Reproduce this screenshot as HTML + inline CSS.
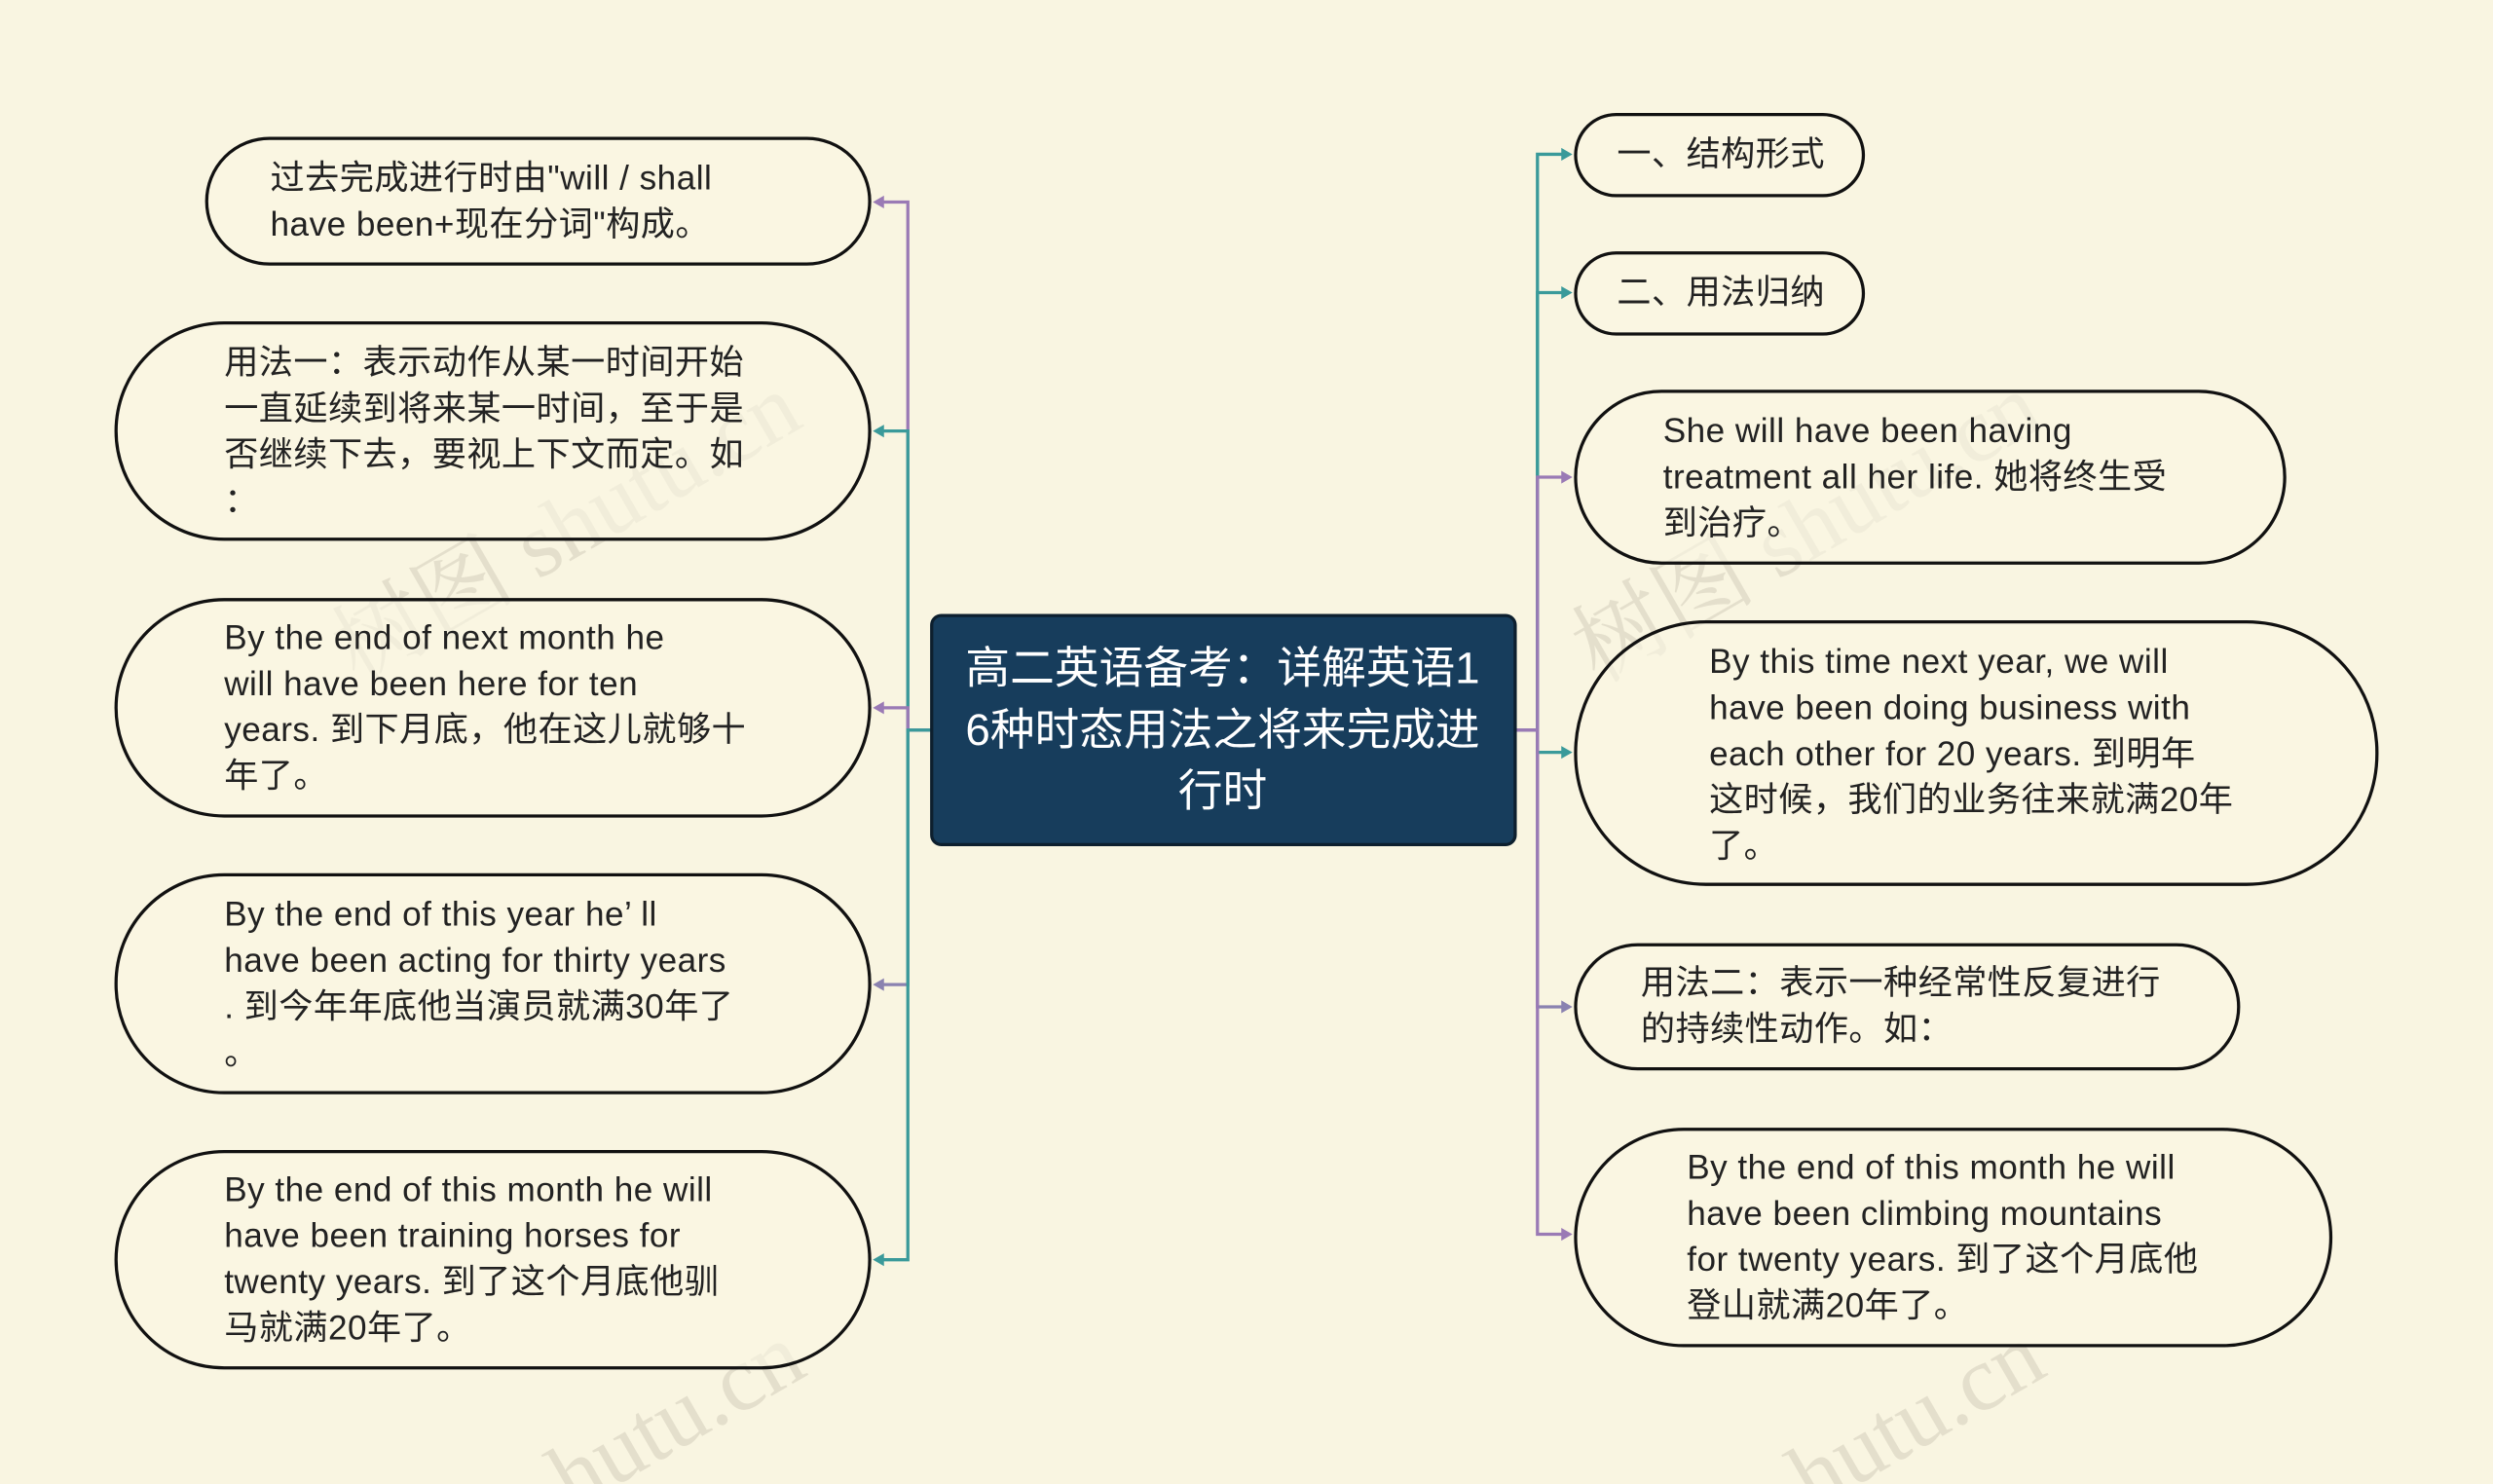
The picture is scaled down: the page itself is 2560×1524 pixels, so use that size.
<!DOCTYPE html>
<html><head><meta charset="utf-8"><style>
html,body{margin:0;padding:0;background:#f9f5e1;}
svg{display:block;}
text{font-family:"Liberation Sans","Noto Sans CJK SC",sans-serif;fill:#222;}
</style></head><body>
<svg width="2560" height="1524" viewBox="0 0 1568 933" preserveAspectRatio="none" xmlns="http://www.w3.org/2000/svg">
<rect width="1568" height="933" fill="#f9f5e1"/>
<g font-size="58" font-family="Liberation Serif,Noto Serif CJK SC,serif">
<text x="225" y="430" transform="rotate(-30 225 430)" style="fill:#e4dfcc;font-family:'Liberation Serif','Noto Serif CJK SC',serif">树图 shutu.cn</text>
<text x="1005" y="430" transform="rotate(-30 1005 430)" style="fill:#e4dfcc;font-family:'Liberation Serif','Noto Serif CJK SC',serif">树图 shutu.cn</text>
<text x="360" y="950" transform="rotate(-30 360 950)" style="fill:#e4dfcc;font-family:'Liberation Serif','Noto Serif CJK SC',serif">hutu.cn</text>
<text x="1140" y="950" transform="rotate(-30 1140 950)" style="fill:#e4dfcc;font-family:'Liberation Serif','Noto Serif CJK SC',serif">hutu.cn</text>
</g>
<g fill="none" stroke-width="2">
<path d="M586 459 H571 V127 H551" stroke="#9a7ab5"/>
<path d="M586 459 H571 V271 H551" stroke="#3a9a9a"/>
<path d="M586 459 H571 V445 H551" stroke="#9a7ab5"/>
<path d="M586 459 H571 V619 H551" stroke="#8a82b0"/>
<path d="M586 459 H571 V792 H551" stroke="#3a9a9a"/>
<path d="M953 459 H967 V97 H987" stroke="#3a9a9a"/>
<path d="M953 459 H967 V184 H987" stroke="#3a9a9a"/>
<path d="M953 459 H967 V300 H987" stroke="#9a7ab5"/>
<path d="M953 459 H967 V473 H987" stroke="#3a9a9a"/>
<path d="M953 459 H967 V633 H987" stroke="#8a82b0"/>
<path d="M953 459 H967 V776 H987" stroke="#9a7ab5"/>
</g>
<g>
<path d="M549 127 l7 -4 v8z" fill="#9a7ab5"/>
<path d="M549 271 l7 -4 v8z" fill="#3a9a9a"/>
<path d="M549 445 l7 -4 v8z" fill="#9a7ab5"/>
<path d="M549 619 l7 -4 v8z" fill="#8a82b0"/>
<path d="M549 792 l7 -4 v8z" fill="#3a9a9a"/>
<path d="M989 97 l-7 -4 v8z" fill="#3a9a9a"/>
<path d="M989 184 l-7 -4 v8z" fill="#3a9a9a"/>
<path d="M989 300 l-7 -4 v8z" fill="#9a7ab5"/>
<path d="M989 473 l-7 -4 v8z" fill="#3a9a9a"/>
<path d="M989 633 l-7 -4 v8z" fill="#8a82b0"/>
<path d="M989 776 l-7 -4 v8z" fill="#9a7ab5"/>
</g>
<g fill="#faf6e3" fill-opacity="0.6" stroke="#111" stroke-width="2">
<rect x="130" y="87" width="417" height="79" rx="39.5"/>
<rect x="73" y="203" width="474" height="136" rx="68"/>
<rect x="73" y="377" width="474" height="136" rx="68"/>
<rect x="73" y="550" width="474" height="137" rx="68"/>
<rect x="73" y="724" width="474" height="136" rx="68"/>
<rect x="991" y="72" width="181" height="51" rx="25.5"/>
<rect x="991" y="159" width="181" height="51" rx="25.5"/>
<rect x="991" y="246" width="446" height="108" rx="54"/>
<rect x="991" y="391" width="504" height="165" rx="82"/>
<rect x="991" y="594" width="417" height="78" rx="39"/>
<rect x="991" y="710" width="475" height="136" rx="68"/>
</g>
<rect x="586" y="387" width="367" height="144" rx="6" fill="#173d5c" stroke="#0d1f2e" stroke-width="2"/>
<g font-size="28" text-anchor="middle" dominant-baseline="central">
<text x="769" y="420" style="fill:#fff">高二英语备考：详解英语1</text>
<text x="769" y="459" style="fill:#fff">6种时态用法之将来完成进</text>
<text x="769" y="497" style="fill:#fff">行时</text>
</g>
<g font-size="21.5" dominant-baseline="central" letter-spacing="0.3">
<text x="170" y="112">过去完成进行时由"will / shall</text>
<text x="170" y="141">have been+现在分词"构成。</text>
<text x="141" y="228">用法一：表示动作从某一时间开始</text>
<text x="141" y="257">一直延续到将来某一时间，至于是</text>
<text x="141" y="286">否继续下去，要视上下文而定。如</text>
<text x="141" y="315">：</text>
<text x="141" y="401">By the end of next month he</text>
<text x="141" y="430">will have been here for ten</text>
<text x="141" y="459">years. 到下月底，他在这儿就够十</text>
<text x="141" y="488">年了。</text>
<text x="141" y="575">By the end of this year he’ ll</text>
<text x="141" y="604">have been acting for thirty years</text>
<text x="141" y="633">. 到今年年底他当演员就满30年了</text>
<text x="141" y="662">。</text>
<text x="141" y="748">By the end of this month he will</text>
<text x="141" y="777">have been training horses for</text>
<text x="141" y="806">twenty years. 到了这个月底他驯</text>
<text x="141" y="835">马就满20年了。</text>
<text x="1017" y="97">一、结构形式</text>
<text x="1017" y="184">二、用法归纳</text>
<text x="1046" y="271">She will have been having</text>
<text x="1046" y="300">treatment all her life. 她将终生受</text>
<text x="1046" y="329">到治疗。</text>
<text x="1075" y="416">By this time next year, we will</text>
<text x="1075" y="445">have been doing business with</text>
<text x="1075" y="474">each other for 20 years. 到明年</text>
<text x="1075" y="503">这时候，我们的业务往来就满20年</text>
<text x="1075" y="532">了。</text>
<text x="1032" y="618">用法二：表示一种经常性反复进行</text>
<text x="1032" y="647">的持续性动作。如：</text>
<text x="1061" y="734">By the end of this month he will</text>
<text x="1061" y="763">have been climbing mountains</text>
<text x="1061" y="792">for twenty years. 到了这个月底他</text>
<text x="1061" y="821">登山就满20年了。</text>
</g>
</svg>
</body></html>
